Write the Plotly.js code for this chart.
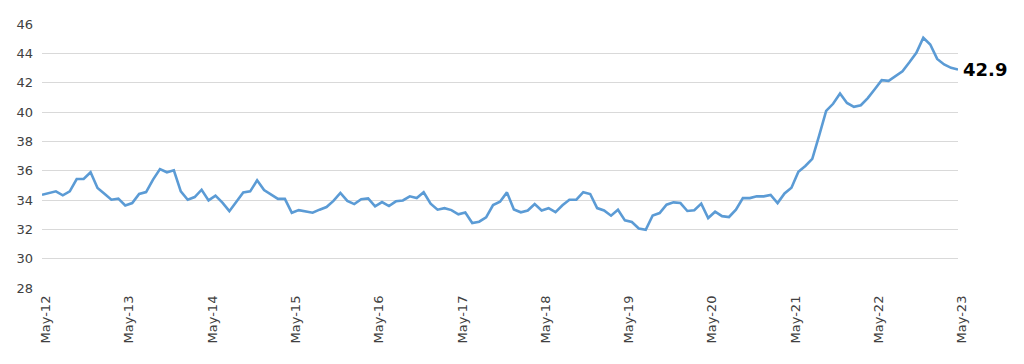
<!DOCTYPE html>
<html>
<head>
<meta charset="utf-8">
<script src="https://cdn.plot.ly/plotly-3.0.1.min.js"></script>
<style>html,body{margin:0;padding:0;background:#fff;}#chart{width:1024px;height:364px;}</style>
</head>
<body>
<div id="chart"></div>
<script>
// Monthly series, May-12 .. May-23 (133 months)
const seriesValues = [
  34.36, 34.48, 34.59, 34.32, 34.59, 35.43, 35.43, 35.89, 34.82, 34.43,
  34.02, 34.09, 33.63, 33.79, 34.41, 34.54, 35.39, 36.11, 35.89, 36.02,
  34.59, 34.02, 34.20, 34.70, 33.97, 34.30, 33.82, 33.24, 33.91, 34.52,
  34.59, 35.34, 34.68, 34.40, 34.08, 34.08, 33.13, 33.31, 33.22, 33.13,
  33.34, 33.52, 33.94, 34.48, 33.94, 33.72, 34.05, 34.11, 33.57, 33.86,
  33.59, 33.91, 33.97, 34.25, 34.13, 34.53, 33.75, 33.34, 33.44, 33.31,
  33.02, 33.15, 32.43, 32.52, 32.82, 33.66, 33.88, 34.52, 33.36, 33.16,
  33.28, 33.73, 33.29, 33.44, 33.17, 33.64, 34.02, 34.02, 34.53, 34.41,
  33.45, 33.29, 32.93, 33.34, 32.61, 32.50, 32.06, 31.97, 32.94, 33.11,
  33.68, 33.84, 33.79, 33.25, 33.30, 33.75, 32.77, 33.20, 32.90, 32.84,
  33.34, 34.13, 34.13, 34.25, 34.25, 34.34, 33.79, 34.45, 34.84, 35.92,
  36.32, 36.80, 38.40, 40.08, 40.56, 41.26, 40.62, 40.35, 40.46, 40.95,
  41.55, 42.17, 42.12, 42.44, 42.78, 43.39, 44.03, 45.06, 44.60, 43.62,
  43.24, 43.01, 42.90
];
const tickLabels = ["May-12","May-13","May-14","May-15","May-16","May-17","May-18","May-19","May-20","May-21","May-22","May-23"];
const yTicks = [28,30,32,34,36,38,40,42,44,46];
const lastLabel = "42.9";

const xIdx = seriesValues.map((v, i) => i);
const tickVals = tickLabels.map((t, k) => k * 12);
const lastIdx = seriesValues.length - 1;

const font = "DejaVu Sans, sans-serif";

Plotly.newPlot("chart", [{
  type: "scatter",
  mode: "lines",
  x: xIdx,
  y: seriesValues,
  line: {color: "#5b9bd5", width: 2.6, shape: "linear"},
  hoverinfo: "skip"
}], {
  width: 1024,
  height: 364,
  margin: {l: 42, r: 66, t: 24, b: 76, pad: 0},
  paper_bgcolor: "#ffffff",
  plot_bgcolor: "#ffffff",
  showlegend: false,
  font: {family: font, size: 13, color: "#404040"},
  xaxis: {
    range: [0, lastIdx],
    tickmode: "array",
    tickvals: tickVals,
    ticktext: tickLabels,
    tickangle: -90,
    ticks: "",
    showgrid: false,
    zeroline: false,
    showline: false,
    ticklabelshift: 4,
    ticklabelstandoff: 4,
    tickfont: {family: font, size: 13, color: "#404040"},
    fixedrange: true
  },
  yaxis: {
    range: [28, 46],
    tickmode: "array",
    tickvals: yTicks,
    ticktext: yTicks.map(String),
    ticks: "",
    showgrid: true,
    gridcolor: "#d9d9d9",
    gridwidth: 1,
    zeroline: false,
    showline: false,
    ticklabelstandoff: 8,
    tickfont: {family: font, size: 13, color: "#404040"},
    fixedrange: true
  },
  annotations: [{
    x: lastIdx,
    y: seriesValues[lastIdx],
    xref: "x",
    yref: "y",
    text: "<b>" + lastLabel + "</b>",
    showarrow: false,
    xanchor: "left",
    yanchor: "middle",
    xshift: 3,
    font: {family: font, size: 18, color: "#000000"}
  }]
}, {displayModeBar: false, staticPlot: true});
</script>
</body>
</html>
